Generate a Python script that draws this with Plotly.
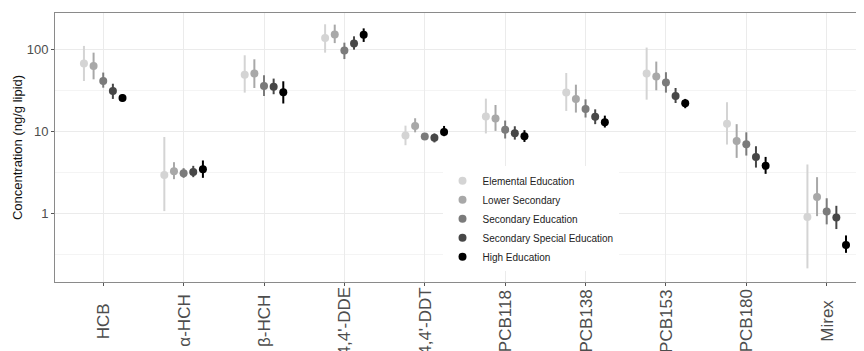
import plotly.graph_objects as go

categories = ["HCB", "α-HCH", "β-HCH", "4,4'-DDE", "4,4'-DDT",
              "PCB118", "PCB138", "PCB153", "PCB180", "Mirex"]

groups = ["Elemental Education", "Lower Secondary", "Secondary Education",
          "Secondary Special Education", "High Education"]

colors = ["#d4d4d4", "#a8a8a8", "#7b7b7b", "#474747", "#000000"]

# central values (ng/g lipid)
elemental_mid = [67, 2.93, 49, 137, 8.9, 15.1, 29.6, 50.5, 12.3, 0.90]
lower_mid = [62.6, 3.25, 50.5, 152, 11.6, 14.3, 24.8, 46.4, 7.6, 1.57]
secondary_mid = [41, 3.07, 35.7, 96.4, 8.6, 10.4, 18.7, 39.2, 6.94, 1.05]
special_mid = [31, 3.19, 35, 118, 8.3, 9.46, 15.0, 27.0, 4.86, 0.887]
high_mid = [25.5, 3.44, 29.9, 150, 9.8, 8.7, 12.9, 21.9, 3.78, 0.41]

# lower bounds
elemental_lo = [41, 1.06, 29.6, 91, 6.75, 9.4, 17.7, 24.3, 6.88, 0.212]
lower_lo = [43, 2.6, 33.7, 119, 9.7, 10.1, 16.9, 31.6, 4.73, 0.92]
secondary_lo = [34, 2.7, 27, 76, 7.9, 8.15, 14.7, 29.6, 5.05, 0.73]
special_lo = [24.8, 2.75, 28.3, 99, 7.3, 7.9, 12.2, 22.1, 3.6, 0.64]
high_lo = [23, 2.7, 21.8, 123, 8.7, 7.4, 11.1, 19.1, 3.02, 0.328]

# upper bounds
elemental_hi = [110, 8.5, 84.5, 202, 11.7, 25, 51.4, 105, 22.6, 3.93]
lower_hi = [91, 4.19, 75.5, 200, 14.4, 20.9, 37, 70.8, 12.2, 2.75]
secondary_hi = [52, 3.54, 48.2, 120.5, 9.4, 13.5, 24.5, 52.5, 9.7, 1.52]
special_hi = [38, 3.78, 43.9, 144, 9.4, 11.5, 18.5, 33.7, 6.56, 1.23]
high_hi = [28.3, 4.4, 40.7, 180, 11.6, 10.3, 15.5, 24.8, 4.86, 0.535]

mids = [elemental_mid, lower_mid, secondary_mid, special_mid, high_mid]
los = [elemental_lo, lower_lo, secondary_lo, special_lo, high_lo]
his = [elemental_hi, lower_hi, secondary_hi, special_hi, high_hi]

y_tickvals = [1, 10, 100]
y_ticktext = ["1", "10", "100"]
y_minor = [0.316, 3.16, 31.6, 316]

FONT = "Liberation Sans, Arial, sans-serif"

fig = go.Figure()
for name, col, m, lo, hi in zip(groups, colors, mids, los, his):
    fig.add_trace(go.Scatter(
        x=categories, y=m, name=name, mode="markers",
        offsetgroup=name,
        marker=dict(color=col, size=8, line=dict(width=0)),
        error_y=dict(type="data", symmetric=False,
                     array=[h - v for h, v in zip(hi, m)],
                     arrayminus=[v - l for v, l in zip(m, lo)],
                     color=col, thickness=2, width=0),
        hoverinfo="skip",
    ))

for c in categories:
    fig.add_annotation(x=c, xref="x", y=-0.145, yref="paper",
                       text=c, textangle=-90, showarrow=False,
                       xanchor="center", yanchor="middle",
                       font=dict(family=FONT, size=17, color="#4d4d4d"))

fig.update_layout(
    width=856, height=343,
    margin=dict(l=47, r=0, t=5, b=69),
    paper_bgcolor="white", plot_bgcolor="white",
    scattermode="group", scattergap=0.4,
    font=dict(family=FONT, color="#4d4d4d"),
    showlegend=True,
    legend=dict(x=0.479, y=0.43, xanchor="left", yanchor="top",
                bgcolor="white", borderwidth=0,
                font=dict(family=FONT, size=10, color="#222222"),
                tracegroupgap=0),
    hovermode=False,
)

fig.update_xaxes(
    type="category", range=[-0.6, 9.464], autorange=False,
    showgrid=True, gridcolor="#ebebeb", gridwidth=1,
    showline=True, linecolor="#8a8a8a", linewidth=1, mirror=True,
    ticks="outside", ticklen=3, tickcolor="#555555",
    showticklabels=False, zeroline=False, automargin=False,
)

fig.update_yaxes(
    type="log", range=[-0.84, 2.443], autorange=False,
    tickmode="array", tickvals=y_tickvals, ticktext=y_ticktext,
    tickfont=dict(family=FONT, size=13, color="#4d4d4d"),
    showgrid=True, gridcolor="#ebebeb", gridwidth=1,
    minor=dict(tickmode="array", tickvals=y_minor, showgrid=True,
               gridcolor="#f4f4f4", gridwidth=1, ticks=""),
    showline=True, linecolor="#8a8a8a", linewidth=1, mirror=False,
    ticks="outside", ticklen=3, tickcolor="#555555",
    zeroline=False, automargin=False,
    title=dict(text="Concentration (ng/g lipid)", standoff=1,
               font=dict(family=FONT, size=13, color="#111111")),
)

fig.write_html("out.html")
